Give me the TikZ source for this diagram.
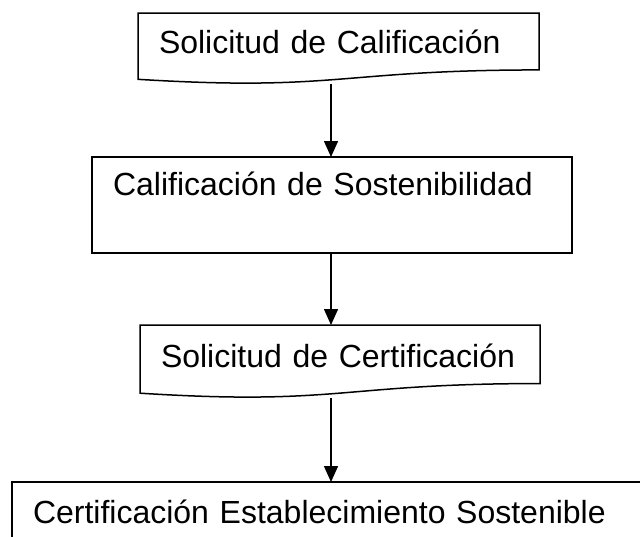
\documentclass[tikz,border=0pt]{standalone}
\usepackage{fontspec}
\setmainfont{Liberation Sans}
\usetikzlibrary{calc, arrows.meta}
\newcommand{\labelfont}{\fontsize{32pt}{38pt}\selectfont}
\tikzstyle{block} = [rectangle, draw=black, line width=1.5pt, anchor=north west, inner xsep=21pt, inner ysep=0pt, outer sep=0pt, align=left, font=\labelfont]
\tikzstyle{docbox} = [block, draw=none]
\tikzstyle{outline} = [line width=1.5pt, line join=miter]
\tikzstyle{arrow} = [line width=1.5pt, ->, >={Triangle[length=16pt, width=14pt]}]
% wavy bottom of a document box
\newcommand{\docoutline}[1]{%
  \draw [outline] (#1.north west) -- (#1.north east)
    -- ($(#1.north east)!0.802!(#1.south east)$)
    .. controls ($(#1.north)!0.802!(#1.south)$) and ($(#1.north)!1.1075!(#1.south)$)
    .. ($(#1.north west)!0.934!(#1.south west)$) -- cycle;}

\begin{document}
\begin{tikzpicture}[x=1pt, y=-1pt]
	\useasboundingbox (0,0) rectangle (640,536);
	\clip (0,0) rectangle (640,536);
	
	% Nodes
	\node (solcal) [docbox, text width=359pt, text height=40pt, text depth=31pt] at (138,13) {Solicitud de Calificación};
	\node (calsost) [block, text width=438pt, text height=38pt, text depth=58pt] at (92,157) {Calificación de Sostenibilidad};
	\node (solcert) [docbox, text width=358pt, text height=42pt, text depth=31pt] at (140,325) {Solicitud de Certificación};
	\node (certest) [block, text width=618pt, text height=41pt, text depth=59pt] at (12,482) {Certificación Establecimiento Sostenible};
	\coordinate (axis) at (331,0);
	
	\docoutline{solcal}
	\docoutline{solcert}
	
	% Arrows
	\draw [arrow] (solcal.south -| axis) -- (calsost.north -| axis);
	\draw [arrow] (calsost.south -| axis) -- (solcert.north -| axis);
	\draw [arrow] (solcert.south -| axis) -- (certest.north -| axis);
	
\end{tikzpicture}
\end{document}
